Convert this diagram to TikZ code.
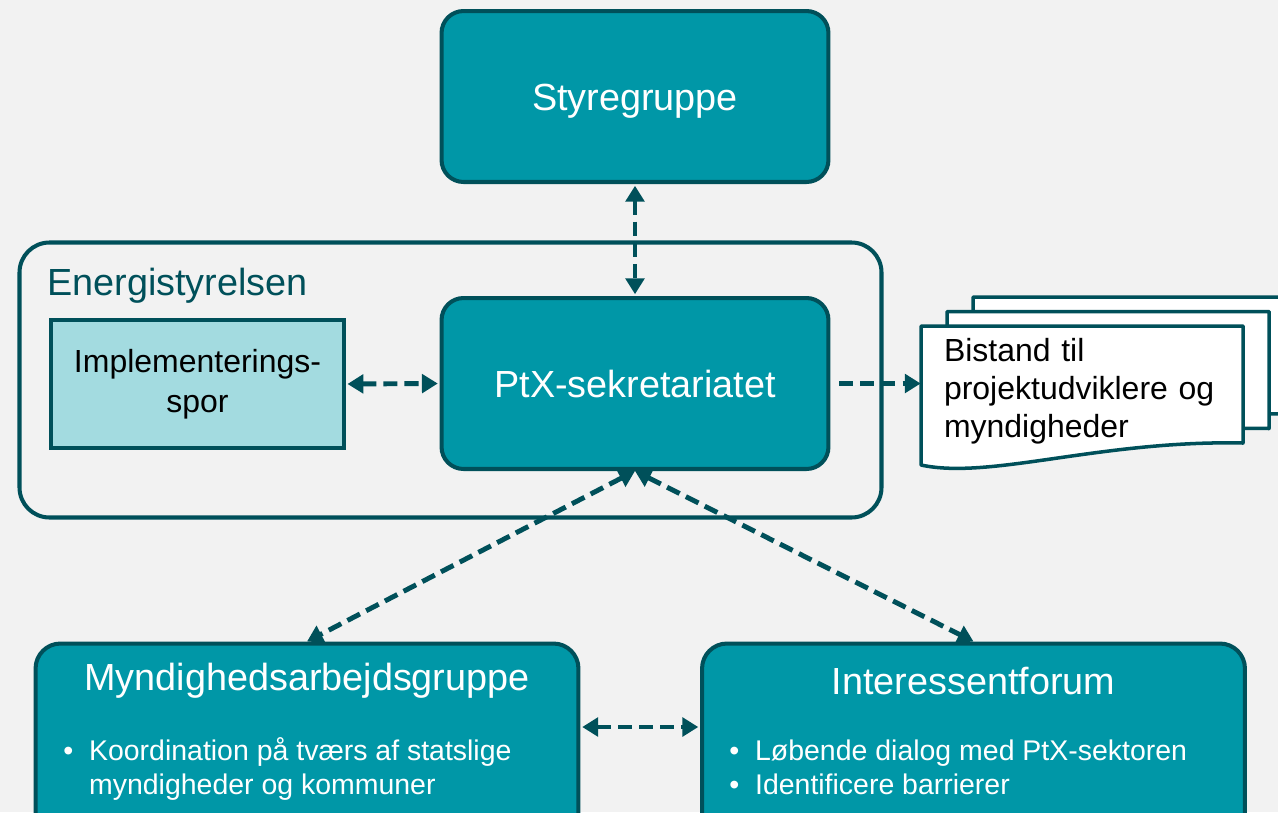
\documentclass[tikz,border=0pt]{standalone}
\usepackage{fontspec}
\setmainfont{Liberation Sans}
\usetikzlibrary{arrows.meta}

\definecolor{ptxteal}{RGB}{0,151,167}
\definecolor{ptxdark}{RGB}{0,80,90}
\definecolor{ptxlight}{RGB}{163,219,224}
\definecolor{ptxbg}{RGB}{242,242,242}

\tikzset{
    unit/.style={draw=ptxdark, line width=2.3pt, fill=ptxteal, rounded corners=0.44cm, text=white,
        text height=20pt, text depth=4.5pt,
        font=\fontsize{21.5}{25}\selectfont, minimum width=7.74cm, minimum height=3.42cm},
    group/.style={draw=ptxdark, line width=2.3pt, fill=ptxteal, rounded corners=0.5cm,
        minimum width=10.86cm, minimum height=3.9cm},
    track/.style={draw=ptxdark, line width=2pt, fill=ptxlight, align=center,
        font=\fontsize{18.2}{22.7}\selectfont, minimum width=5.86cm, minimum height=2.56cm},
    page/.style={draw=ptxdark, line width=2pt, fill=white, line join=round},
    title/.style={text=white, inner sep=0pt, font=\fontsize{21.5}{25}\selectfont},
    tasks/.style={text=white, inner sep=0pt, anchor=west, font=\fontsize{16.2}{19.8}\selectfont},
    link/.style={ptxdark, line width=2.8pt, dash pattern=on 8pt off 4pt,
        {Triangle[length=9pt,width=10.5pt]}-{Triangle[length=9pt,width=10.5pt]}},
    linkto/.style={link, -{Triangle[length=9pt,width=10.5pt]}},
}

\begin{document}
\begin{tikzpicture}[x=0.02cm, y=-0.02cm]
    \useasboundingbox (0,0) rectangle (1278,812);
    \fill[ptxbg] (0,0) rectangle (1278,812);
    \clip (0,0) rectangle (1278,812);

    \node[unit] (styre) at (635,96.5) {Styregruppe};

    % Energistyrelsen
    \node[anchor=west, inner sep=0pt, text=ptxdark, font=\fontsize{21.5}{25}\selectfont] (energi) at (47,286) {Energistyrelsen};
    \node[track] (impl) at (197.5,384) {Implementerings-\\spor};
    \node[unit] (ptx) at (635,383.5) {PtX-sekretariatet};

    % stack of pages
    \foreach \dx/\dy in {52/-29, 26/-14.5} {
        \begin{scope}[shift={(\dx,\dy)}]
            \path[page] (921,326) -- (1243,326) -- (1243,443) .. controls (1100,440) and (990,480) .. (921,465) -- cycle;
        \end{scope}
    }
    \path[page] (921,326) -- (1243,326) -- (1243,443) .. controls (1100,440) and (990,480) .. (921,465) -- cycle;
    \node[align=left, text width=5.52cm, inner xsep=0.46cm, inner ysep=0pt, minimum width=6.44cm,
        font=\fontsize{18.2}{21.5}\selectfont] (bistand) at (1082,391)
        {Bistand til\\projektudviklere og\\myndigheder};

    \node[group] (mynd) at (307,741) {};
    \node[title] (myndtitle) at (307,681) {Myndighedsarbejdsgruppe};
    \node[tasks] (myndtasks) at (63,770.5) {\begin{tabular}{@{}l@{\hspace{9pt}}l@{}}
        \textbullet & Koordination på tværs af statslige\\
                    & myndigheder og kommuner
        \end{tabular}};

    \node[group] (inter) at (973.5,741) {};
    \node[title] (intertitle) at (973.5,681) {Interessentforum};
    \node[tasks] (intertasks) at (729,770.5) {\begin{tabular}{@{}l@{\hspace{9pt}}l@{}}
        \textbullet & Løbende dialog med PtX-sektoren\\
        \textbullet & Identificere barrierer
        \end{tabular}};

    \draw[link, shorten <=1pt, shorten >=1pt] (styre.south) -- (ptx.north);
    \draw[link, shorten <=1pt, shorten >=1pt] (impl.east) -- (ptx.west);
    \draw[linkto, shorten <=5pt] (ptx.east) -- (ptx.east -| bistand.west);
    \draw[link] (ptx.south) -- (mynd.north);
    \draw[link] (ptx.south) -- (inter.north);
    \draw[link, shorten <=1pt, shorten >=1pt] ([yshift=0.28cm]mynd.east) -- ([yshift=0.28cm]inter.west);

    \draw[ptxdark, line width=2.3pt, rounded corners=0.6cm] (19.5,242.5) rectangle (881.5,517.5);
\end{tikzpicture}
\end{document}
